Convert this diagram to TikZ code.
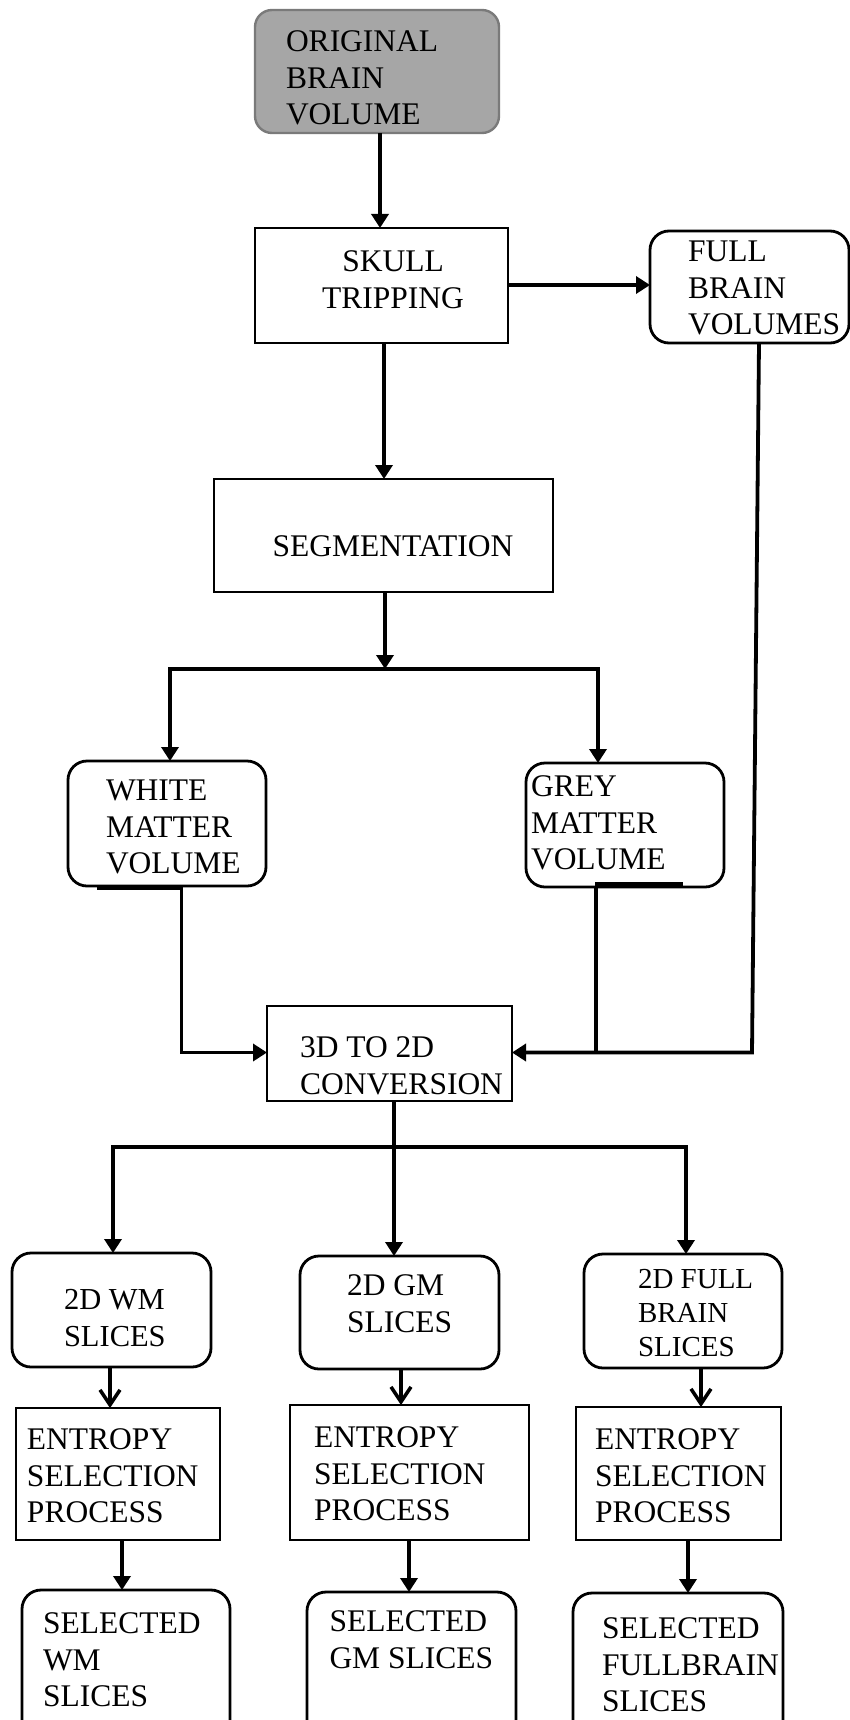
\documentclass[tikz,border=0pt]{standalone}
\usepackage{fontspec}
\setmainfont{Liberation Serif}
\usetikzlibrary{arrows.meta}

\definecolor{origfill}{HTML}{A6A6A6}
\definecolor{origdraw}{HTML}{7A7A7A}

\begin{document}
\begin{tikzpicture}[x=1pt,y=-1pt,
  box/.style={draw, line width=2.8pt, inner sep=0pt, outer sep=0pt, anchor=north west},
  rbox/.style={box, rounded corners=19pt},
  txt/.style={inner sep=0pt, outer sep=0pt, align=left, anchor=north west,
              font=\fontsize{31.5}{36.5}\selectfont},
  ctxt/.style={txt, align=center, anchor=north},
  link/.style={line width=3.8pt},
  arr/.style={link, -{Triangle[length=14pt,width=17pt]}},
  barb/.style={link, -{Straight Barb[length=15pt,width=20pt,line width=3.5pt]}},
  bar/.style={line width=4.5pt}]
\useasboundingbox (0,0) rectangle (850,1720);
\clip (0,0) rectangle (850,1720);

% ---- boxes ----
\node[rbox, fill=origfill, draw=origdraw, line width=2.4pt, rounded corners=17pt,
      minimum width=244pt, minimum height=123pt] (orig) at (255,10) {};
\node[box, minimum width=253pt, minimum height=115pt] (skull) at (255,228) {};
\node[rbox, minimum width=199pt, minimum height=112pt] (fbv) at (650,231) {};
\node[box, minimum width=339pt, minimum height=113pt] (seg) at (214,479) {};
\node[rbox, minimum width=198pt, minimum height=125pt] (wm) at (68,761) {};
\node[rbox, minimum width=198pt, minimum height=124pt] (gm) at (526,763) {};
\node[box, minimum width=245pt, minimum height=95pt] (conv) at (267,1006) {};
\node[rbox, minimum width=199pt, minimum height=114pt] (wm2d) at (12,1253) {};
\node[rbox, minimum width=199pt, minimum height=113pt] (gm2d) at (300,1256) {};
\node[rbox, minimum width=198pt, minimum height=114pt] (fb2d) at (584,1254) {};
\node[box, minimum width=204pt, minimum height=132pt] (entwm) at (16,1408) {};
\node[box, minimum width=239pt, minimum height=135pt] (entgm) at (290,1405) {};
\node[box, minimum width=205pt, minimum height=133pt] (entfb) at (576,1407) {};
\node[rbox, minimum width=208pt, minimum height=160pt] (selwm) at (22,1590) {};
\node[rbox, minimum width=209pt, minimum height=160pt] (selgm) at (307,1592) {};
\node[rbox, minimum width=210pt, minimum height=160pt] (selfb) at (573,1593) {};

% ---- labels ----
\node[txt] (t-orig) at (286,31) {ORIGINAL\\BRAIN\\VOLUME};
\node[ctxt] (t-skull) at (393,251) {SKULL\\TRIPPING};
\node[txt] (t-fbv) at (688,241) {FULL\\BRAIN\\VOLUMES};
\node[ctxt] (t-seg) at (393,536) {SEGMENTATION};
\node[txt] (t-wm) at (106,780) {WHITE\\MATTER\\VOLUME};
\node[txt] (t-gm) at (531,776) {GREY\\MATTER\\VOLUME};
\node[txt] (t-conv) at (300,1037) {3D TO 2D\\CONVERSION};
\node[txt, font=\fontsize{30.5}{37}\selectfont] (t-wm2d) at (64,1289) {2D WM\\SLICES};
\node[txt] (t-gm2d) at (347,1275) {2D GM\\SLICES};
\node[txt, font=\fontsize{29}{34}\selectfont] (t-fb2d) at (638,1269) {2D FULL\\BRAIN\\SLICES};
\node[txt] (t-entwm) at (27,1429) {ENTROPY\\SELECTION\\PROCESS};
\node[txt] (t-entgm) at (314,1427) {ENTROPY\\SELECTION\\PROCESS};
\node[txt] (t-entfb) at (595,1429) {ENTROPY\\SELECTION\\PROCESS};
\node[txt] (t-selwm) at (43,1613) {SELECTED\\WM\\SLICES};
\node[txt] (t-selgm) at (329.5,1611) {SELECTED\\GM SLICES};
\node[txt] (t-selfb) at (602,1618) {SELECTED\\FULLBRAIN\\SLICES};

% ---- connector columns and rows ----
\coordinate (c-a) at (380,0);
\coordinate (c-b) at (384,0);
\coordinate (r-a) at (0,285);
\coordinate (j-seg) at (385,669);
\coordinate (j-wl) at (170,0);
\coordinate (j-gr) at (598,0);
\coordinate (k-w) at (181.5,0);
\coordinate (k-g) at (596,0);
\coordinate (k-y) at (0,1052.5);
\coordinate (k-f1) at (759,0);
\coordinate (k-f2) at (752,1052.5);
\coordinate (j-y) at (0,1147);
\coordinate (m-1) at (113,0);
\coordinate (m-2) at (394,0);
\coordinate (m-3) at (686,0);
\coordinate (e-1) at (110,0);
\coordinate (e-2) at (401,0);
\coordinate (e-3) at (701,0);
\coordinate (s-1) at (122,0);
\coordinate (s-2) at (409,0);
\coordinate (s-3) at (688,0);

% ---- connectors ----
\draw[arr] (orig.south -| c-a) -- (skull.north -| c-a);
\draw[arr] (skull.east |- r-a) -- (fbv.west |- r-a);
\draw[arr] (skull.south -| c-b) -- (seg.north -| c-b);
\draw[arr] (seg.south -| j-seg) -- (j-seg);
\draw[arr] (j-seg) -| (wm.north -| j-wl);
\draw[arr] (j-seg) -| (gm.north -| j-gr);

\draw[arr] (wm.south -| k-w) |- (conv.west |- k-y);
\draw[link] (gm.south -| k-g) -- (k-g |- k-y);
\draw[arr] (fbv.south -| k-f1) -- (k-f2) -- (conv.east |- k-f2);

% heavy strokes along the lower edges of the matter boxes
\coordinate (b-w1) at (96.5,887.5);
\coordinate (b-g1) at (595,884.5);
\coordinate (b-g2) at (683,884.5);
\draw[bar] (b-w1) -- (b-w1 -| k-w);
\draw[bar] (b-g1) -- (b-g2);

\draw[arr] (conv.south -| m-2) -- (gm2d.north -| m-2);
\draw[arr] (m-2 |- j-y) -| (wm2d.north -| m-1);
\draw[arr] (m-2 |- j-y) -| (fb2d.north -| m-3);

\draw[barb] (wm2d.south -| e-1) -- (entwm.north -| e-1);
\draw[barb] (gm2d.south -| e-2) -- (entgm.north -| e-2);
\draw[barb] (fb2d.south -| e-3) -- (entfb.north -| e-3);

\draw[arr] (entwm.south -| s-1) -- (selwm.north -| s-1);
\draw[arr] (entgm.south -| s-2) -- (selgm.north -| s-2);
\draw[arr] (entfb.south -| s-3) -- (selfb.north -| s-3);
\end{tikzpicture}
\end{document}
